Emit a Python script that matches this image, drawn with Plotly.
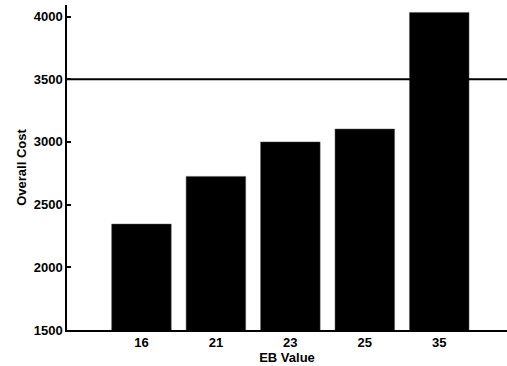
import plotly.graph_objects as go

categories = ["16", "21", "23", "25", "35"]
overall_cost = [2345, 2725, 3000, 3103, 4033]
threshold = 3500
y_ticks = [1500, 2000, 2500, 3000, 3500, 4000]

font_family = "Liberation Sans, Arial, sans-serif"

fig = go.Figure()
fig.add_trace(go.Bar(
    x=list(range(len(categories))),
    y=overall_cost,
    width=0.8,
    marker=dict(color="black", line=dict(color="#555", width=0.5)),
))
fig.add_shape(type="line", xref="paper", yref="y", x0=0, x1=1,
              y0=threshold, y1=threshold, line=dict(color="black", width=2.2))

fig.update_layout(
    width=507, height=366,
    margin=dict(l=67, r=0, t=5, b=36, autoexpand=False),
    paper_bgcolor="white", plot_bgcolor="white",
    showlegend=False,
    font=dict(family=font_family, size=13, color="black"),
)
fig.update_xaxes(
    range=[-1, 4.91], automargin=False,
    tickmode="array", tickvals=list(range(len(categories))), ticktext=categories,
    tickfont=dict(family=font_family, size=13, color="black", weight="bold"),
    showgrid=False, zeroline=False,
    showline=True, linecolor="black", linewidth=1.5,
    ticks="", title=dict(text="<b>EB Value</b>", standoff=0,
                          font=dict(family=font_family, size=13)),
)
fig.update_yaxes(
    range=[1500, 4092], automargin=False,
    tickmode="array", tickvals=y_ticks,
    tickfont=dict(family=font_family, size=13, color="black", weight="bold"),
    showgrid=False, zeroline=False,
    showline=True, linecolor="black", linewidth=1.5,
    ticks="inside", ticklen=4, tickwidth=1.5, tickcolor="black",
    title=dict(text="<b>Overall Cost</b>", standoff=4,
               font=dict(family=font_family, size=13)),
)

fig.write_html(
    "out.html", config={"displayModeBar": False},
    post_script=(
        "document.body.style.margin='0';"
        "document.body.style.overflow='hidden';"
        "document.documentElement.style.overflow='hidden';"
    ),
)
